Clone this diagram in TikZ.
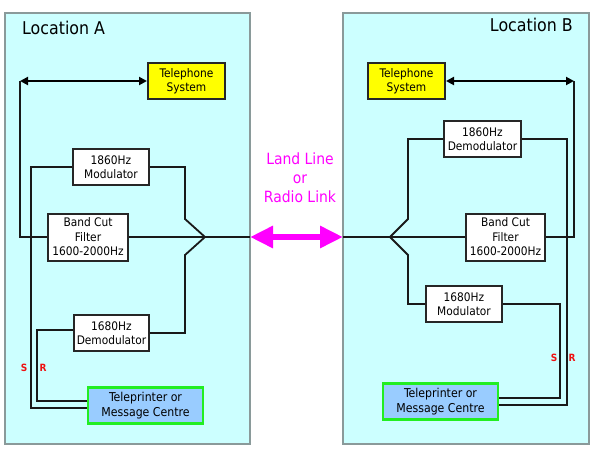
\documentclass[tikz,border=0pt]{standalone}
\usepackage{fontspec}
\setmainfont{DejaVu Sans Condensed}
\usetikzlibrary{arrows.meta}
\definecolor{panelfill}{HTML}{CCFFFF}
\definecolor{panelline}{HTML}{8A9A9A}
\definecolor{telyellow}{HTML}{FFFF00}
\definecolor{tpfill}{HTML}{99CCFF}
\definecolor{tpgreen}{HTML}{22EE22}
\definecolor{linkmag}{HTML}{FF00FF}
\definecolor{srred}{HTML}{EE1111}
\begin{document}
\begin{tikzpicture}[x=1pt,y=-1pt,
  panel/.style={fill=panelfill,draw=panelline,line width=1.2pt},
  blk/.style={draw=black!85,fill=white,line width=2pt,align=center,inner sep=0pt,
    font=\fontsize{11.8}{14.5}\selectfont},
  telbox/.style={blk,fill=telyellow},
  tpbox/.style={blk,fill=tpfill,draw=tpgreen,line width=2.8pt,font=\fontsize{12.2}{15}\selectfont},
  wire/.style={draw=black!90,line width=1.8pt},
  telarrow/.style={draw=black,line width=2.4pt,{Triangle[length=8pt,width=8pt]}-{Triangle[length=8pt,width=8pt]}},
  loctext/.style={font=\fontsize{17.6}{20}\selectfont,inner sep=0pt},
  linktext/.style={font=\fontsize{15.5}{19}\selectfont,text=linkmag,inner sep=0pt,anchor=base},
  srlabel/.style={font=\fontsize{10}{11}\selectfont\bfseries,text=srred,inner sep=0pt}
]
\useasboundingbox (0,0) rectangle (600,450);
\fill[white] (0,0) rectangle (600,450);
% panels
\path[panel] (5,13) rectangle (250,444);
\path[panel] (343,13) rectangle (589,444);
\node[loctext,anchor=base west] (locA) at (22,34) {Location A};
\node[loctext,anchor=base east] (locB) at (573,31) {Location B};
% link text
\node[linktext] (land1) at (300,164) {Land Line};
\node[linktext] (land2) at (300,183) {or};
\node[linktext] (land3) at (300,202) {Radio Link};

% ===== Location A =====
\node[telbox,minimum width=77pt,minimum height=36pt] (telA) at (186.5,81) {Telephone\\System};
\node[blk,minimum width=76pt,minimum height=36pt] (modA) at (111,167) {1860Hz\\Modulator};
\node[blk,minimum width=80pt,minimum height=47pt] (bcfA) at (88,237) {Band Cut\\Filter\\1600-2000Hz};
\node[blk,minimum width=75pt,minimum height=36pt] (demA) at (111.5,333) {1680Hz\\Demodulator};
\node[tpbox,minimum width=115pt,minimum height=36pt] (tpA) at (145.5,405.5) {Teleprinter or\\Message Centre};
\coordinate (cA) at (20,81);
\coordinate (jA) at (205,237);
\coordinate (edgeA) at (250,237);
\draw[telarrow] (cA) -- (telA.west);
\draw[wire] (cA) -- (20,237) -- (bcfA.west);
\draw[wire] (bcfA.east) -- (jA) -- (edgeA);
\draw[wire] (modA.east) -- (185,167) -- (185,219) -- (jA);
\draw[wire] (demA.east |- 0,333) -- (185,333) -- (185,255) -- (jA);
\draw[wire] (modA.west) -- (31,167) -- (31,408) -- (tpA.west |- 0,408);
\draw[wire] (demA.west |- 0,330) -- (37,330) -- (37,401) -- (tpA.west |- 0,401);
\node[srlabel] (sA) at (24,368) {S};
\node[srlabel] (rA) at (43,368) {R};

% ===== Location B =====
\node[telbox,minimum width=77pt,minimum height=36pt] (telB) at (406.5,81) {Telephone\\System};
\node[blk,minimum width=77pt,minimum height=36pt] (demB) at (482.5,139) {1860Hz\\Demodulator};
\node[blk,minimum width=79pt,minimum height=47pt] (bcfB) at (505.5,237) {Band Cut\\Filter\\1600-2000Hz};
\node[blk,minimum width=76pt,minimum height=36pt] (modB) at (464,304) {1680Hz\\Modulator};
\node[tpbox,minimum width=115pt,minimum height=36pt] (tpB) at (440.5,401.5) {Teleprinter or\\Message Centre};
\coordinate (cB) at (574,81);
\coordinate (jB) at (390,237);
\coordinate (edgeB) at (343,237);
\draw[telarrow] (telB.east) -- (cB);
\draw[wire] (cB) -- (574,237) -- (bcfB.east);
\draw[wire] (edgeB) -- (jB) -- (bcfB.west);
\draw[wire] (demB.west) -- (408,139) -- (408,219) -- (jB);
\draw[wire] (modB.west) -- (408,304) -- (408,255) -- (jB);
\draw[wire] (demB.east) -- (567,139) -- (567,405) -- (tpB.east |- 0,405);
\draw[wire] (modB.east) -- (560,304) -- (560,398) -- (tpB.east |- 0,398);
\node[srlabel] (sB) at (554,358) {S};
\node[srlabel] (rB) at (572,358) {R};

% link arrow
\draw[draw=linkmag,line width=6pt,{Triangle[length=23pt,width=21pt]}-{Triangle[length=23pt,width=21pt]}] (edgeA) -- (edgeB);
\end{tikzpicture}
\end{document}
